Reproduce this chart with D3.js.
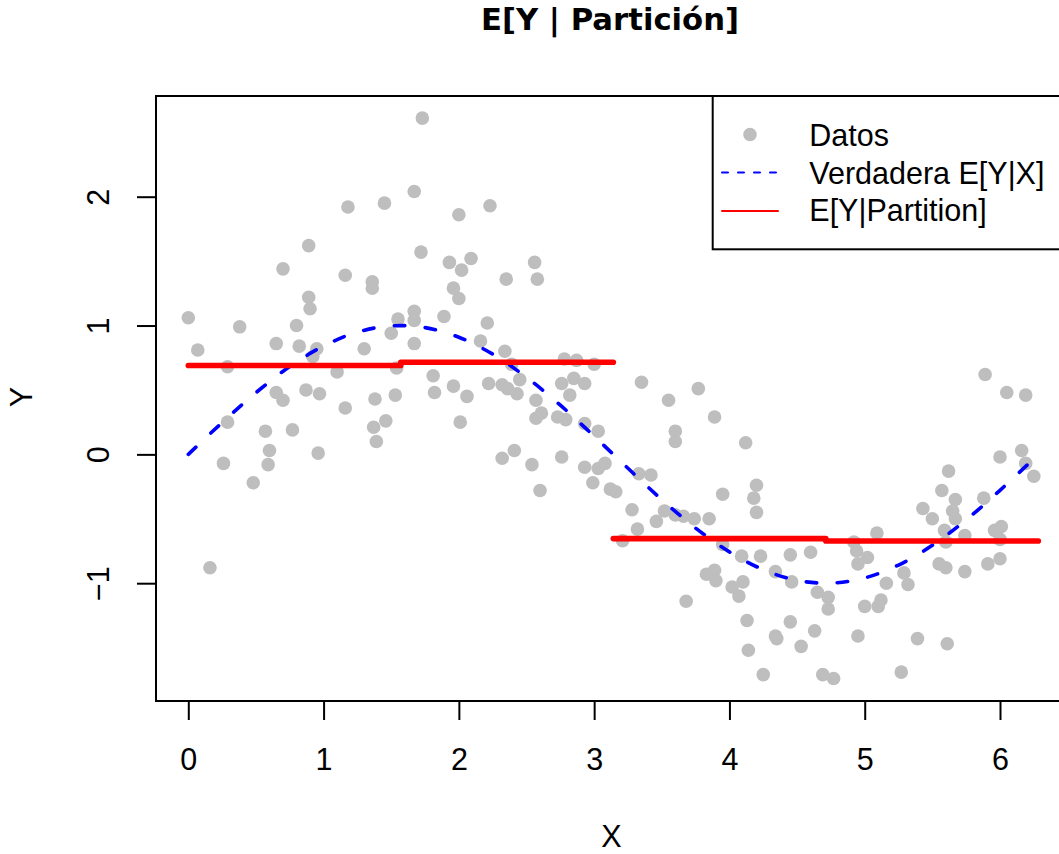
<!DOCTYPE html>
<html>
<head>
<meta charset="utf-8">
<script src="https://cdn.jsdelivr.net/npm/d3@7"></script>
<style>
  body { margin: 0; background: #ffffff; }
  svg { display: block; }
  text { font-family: "Liberation Sans", Arial, Helvetica, sans-serif; fill: #000; }
</style>
</head>
<body>
<svg id="chart" width="1059" height="854"></svg>
<script>
// ---------------- data ----------------
const titleText = "E[Y | Partición]";
const xLabel = "X";
const yLabel = "Y";
const xTicks = [0, 1, 2, 3, 4, 5, 6];
const yTicks = [-1, 0, 1, 2];
const legendLabels = ["Datos", "Verdadera E[Y|X]", "E[Y|Partition]"];

// observed points (x, y)
const dataX = [
  0.00, 0.07, 0.29, 0.29, 0.26, 0.16, 0.48, 0.38, 0.57, 0.60, 0.59, 0.65, 0.65, 0.70, 0.70, 0.77,
  0.80, 0.82, 0.89, 0.89, 0.90, 0.87, 0.92, 0.95, 0.96, 0.97, 1.10, 1.16, 1.16, 1.18, 1.30, 1.36,
  1.36, 1.37, 1.38, 1.39, 1.45, 1.46, 1.50, 1.53, 1.54, 1.55, 1.67, 1.67, 1.67, 1.67, 1.72, 1.73,
  1.81, 1.82, 1.89, 1.93, 1.96, 1.96, 2.00, 2.00, 2.01, 2.02, 2.06, 2.09, 2.23, 2.35, 2.56, 2.58,
  2.21, 2.16, 2.34, 2.39, 2.45, 2.78, 2.87, 3.00, 2.85, 2.93, 2.76, 2.22, 2.32, 2.36, 2.43, 2.57,
  2.61, 2.57, 2.82, 3.35, 3.55, 3.77, 5.89, 6.05, 6.19, 2.73, 2.79, 2.93, 3.03, 3.89, 3.60, 3.60,
  4.12, 2.32, 2.41, 2.54, 2.76, 2.60, 2.93, 3.08, 3.03, 2.99, 3.12, 3.16, 3.33, 3.42, 3.28, 3.32,
  3.46, 3.52, 3.60, 3.66, 3.74, 3.85, 3.21, 3.95, 4.20, 4.18, 4.20, 3.95, 4.09, 4.23, 3.83, 3.89,
  3.90, 4.10, 4.02, 4.07, 3.68, 4.13, 4.14, 4.25, 6.00, 6.16, 6.19, 6.25, 5.62, 5.57, 5.67, 5.65,
  5.67, 5.43, 5.50, 5.88, 5.59, 5.74, 5.96, 6.01, 6.00, 5.60, 5.55, 5.60, 5.74, 5.91, 6.00, 4.45,
  4.60, 4.34, 4.46, 4.92, 5.09, 4.94, 5.02, 4.95, 5.16, 5.29, 5.32, 4.65, 4.73, 4.73, 5.00, 5.12,
  5.10, 4.45, 4.34, 4.35, 4.53, 4.63, 4.95, 5.39, 5.61, 4.69, 4.77, 5.27
];
const dataY = [
  1.06, 0.81, 0.68, 0.25, -0.07, -0.88, -0.22, 0.99, 0.18, 0.03, -0.08, 0.86, 0.48, 0.42, 1.44, 0.19,
  1.00, 0.84, 1.62, 1.22, 1.13, 0.50, 0.76, 0.82, 0.01, 0.47, 0.64, 1.39, 0.36, 1.92, 0.82, 1.34,
  1.29, 0.21, 0.43, 0.10, 1.95, 0.26, 0.94, 0.46, 0.67, 1.05, 1.11, 1.04, 0.86, 2.04, 1.57, 2.61,
  0.61, 0.48, 1.07, 1.49, 0.53, 1.29, 1.86, 1.21, 0.25, 1.43, 0.45, 1.52, 1.93, 1.36, 1.49, 1.36,
  1.02, 0.88, 0.80, 0.70, 0.58, 0.74, 0.73, 0.70, 0.59, 0.55, 0.55, 0.55, 0.54, 0.51, 0.47, 0.42,
  0.32, 0.28, 0.46, 0.56, 0.42, 0.51, 0.62, 0.48, 0.46, 0.29, 0.27, 0.24, 0.18, 0.29, 0.18, 0.10,
  0.09, -0.03, 0.03, -0.08, -0.02, -0.28, -0.10, -0.07, -0.11, -0.22, -0.27, -0.29, -0.15, -0.16, -0.43, -0.58,
  -0.52, -0.44, -0.47, -0.48, -0.50, -0.50, -0.67, -0.31, -0.24, -0.34, -0.45, -0.70, -0.79, -0.79, -0.93, -0.90,
  -0.98, -0.99, -1.03, -1.10, -1.14, -1.29, -1.52, -1.71, -0.02, 0.03, -0.07, -0.17, -0.13, -0.28, -0.35, -0.44,
  -0.50, -0.42, -0.50, -0.34, -0.59, -0.63, -0.59, -0.56, -0.66, -0.68, -0.85, -0.88, -0.91, -0.85, -0.81, -0.78,
  -0.76, -0.91, -0.99, -0.68, -0.61, -0.75, -0.80, -0.85, -1.00, -0.92, -1.01, -1.07, -1.11, -1.20, -1.18, -1.13,
  -1.18, -1.30, -1.41, -1.43, -1.49, -1.37, -1.41, -1.43, -1.47, -1.71, -1.74, -1.69
];

// true conditional mean
const curveX = [0, 0.25, 0.5, 0.75, 1.0, 1.25, 1.5, 1.75, 2.0, 2.25, 2.5, 2.75, 3.0, 3.25,
                3.5, 3.75, 4.0, 4.25, 4.5, 4.75, 5.0, 5.25, 5.5, 5.75, 6.0, 6.25, 6.283];
const curveY = [0, 0.247, 0.479, 0.682, 0.841, 0.949, 0.997, 0.984, 0.909, 0.778, 0.598, 0.382, 0.141, -0.108,
                -0.351, -0.572, -0.757, -0.895, -0.978, -0.999, -0.959, -0.859, -0.706, -0.508, -0.279, -0.033, 0];

// partition: boundaries and means
const partBreaks = [0, 1.5708, 3.1416, 4.7124, 6.2832];
const partMeans = [0.69, 0.715, -0.654, -0.672];

// ---------------- layout ----------------
const W = 1059, H = 854;
const plotL = 156, plotR = 1072, plotT = 96, plotB = 701;
const svg = d3.select("#chart");
svg.append("rect").attr("width", W).attr("height", H).attr("fill", "#ffffff");

const x = d3.scaleLinear().domain([0, 6]).range([188.3, 1000]);
const y = d3.scaleLinear().domain([-1, 2]).range([583.2, 196.7]);

const FS = 30.5;
const GRAY = "#BEBEBE";

// clip
svg.append("defs").append("clipPath").attr("id", "clip")
  .append("rect").attr("x", plotL).attr("y", plotT)
  .attr("width", plotR - plotL).attr("height", plotB - plotT);

const plot = svg.append("g").attr("clip-path", "url(#clip)");

// points
const pts = dataX.map((d, i) => ({ x: d, y: dataY[i] }));
plot.append("g").selectAll("circle").data(pts).join("circle")
  .attr("cx", d => x(d.x)).attr("cy", d => y(d.y))
  .attr("r", 6.8).attr("fill", GRAY);

// true curve
const curvePts = curveX.map((d, i) => [d, curveY[i]]);
plot.append("path")
  .attr("d", d3.line().x(d => x(d[0])).y(d => y(d[1])).curve(d3.curveCatmullRom)(curvePts))
  .attr("fill", "none").attr("stroke", "#0000FF").attr("stroke-width", 3.6)
  .attr("stroke-dasharray", "10.5,20.5").attr("stroke-linecap", "round");

// partition means
const segs = partMeans.map((m, i) => ({ x0: partBreaks[i], x1: partBreaks[i + 1], m }));
plot.append("g").selectAll("line").data(segs).join("line")
  .attr("x1", d => x(d.x0)).attr("x2", d => x(d.x1))
  .attr("y1", d => y(d.m)).attr("y2", d => y(d.m))
  .attr("stroke", "#FF0000").attr("stroke-width", 5.6).attr("stroke-linecap", "round");

// box
svg.append("rect").attr("x", plotL).attr("y", plotT)
  .attr("width", plotR - plotL).attr("height", plotB - plotT)
  .attr("fill", "none").attr("stroke", "#000").attr("stroke-width", 2);

// x axis
const xAxis = d3.axisBottom(x).tickValues(xTicks).tickSize(19).tickFormat(d3.format("d"));
const gx = svg.append("g").attr("transform", `translate(0,${plotB})`).call(xAxis);
gx.select(".domain").remove();
gx.selectAll(".tick line").attr("stroke", "#000").attr("stroke-width", 2);
gx.selectAll(".tick text").attr("y", 69).attr("dy", null)
  .attr("font-size", FS).attr("font-family", "Liberation Sans, Arial, sans-serif").attr("fill", "#000");

// y axis
const yAxis = d3.axisLeft(y).tickValues(yTicks).tickSize(19).tickFormat(d => d < 0 ? "\u2212" + Math.abs(d) : d);
const gy = svg.append("g").attr("transform", `translate(${plotL},0)`).call(yAxis);
gy.select(".domain").remove();
gy.selectAll(".tick line").attr("stroke", "#000").attr("stroke-width", 2);
gy.selectAll(".tick text")
  .attr("x", 0).attr("y", 0).attr("dy", null)
  .attr("text-anchor", "middle")
  .attr("transform", "translate(-47,0) rotate(-90)")
  .attr("font-size", FS).attr("font-family", "Liberation Sans, Arial, sans-serif").attr("fill", "#000");

// axis titles
svg.append("text").attr("x", 611.5).attr("y", 847)
  .attr("text-anchor", "middle").attr("font-size", FS).text(xLabel);
svg.append("text").attr("transform", "translate(32,397) rotate(-90)")
  .attr("text-anchor", "middle").attr("font-size", FS).text(yLabel);

// title
svg.append("text").attr("x", 610).attr("y", 29.5)
  .attr("text-anchor", "middle").attr("font-size", 30.7).attr("font-weight", "bold")
  .style("font-family", "'DejaVu Sans', 'Liberation Sans', Arial, sans-serif")
  .text(titleText);

// legend
const lg = svg.append("g");
lg.append("rect").attr("x", 712.7).attr("y", plotT).attr("width", 400).attr("height", 153.3)
  .attr("fill", "#ffffff").attr("stroke", "#000").attr("stroke-width", 2);
const rowsY = [146, 183.5, 221];
const symY = [134.5, 172.5, 211];
lg.append("circle").attr("cx", 750).attr("cy", symY[0]).attr("r", 6.8).attr("fill", GRAY);
lg.append("line").attr("x1", 722).attr("x2", 778).attr("y1", symY[1]).attr("y2", symY[1])
  .attr("stroke", "#0000FF").attr("stroke-width", 2).attr("stroke-dasharray", "6,10").attr("stroke-linecap", "round");
lg.append("line").attr("x1", 722).attr("x2", 778).attr("y1", symY[2]).attr("y2", symY[2])
  .attr("stroke", "#FF0000").attr("stroke-width", 2).attr("stroke-linecap", "round");
lg.selectAll("text.lab").data(legendLabels).join("text").attr("class", "lab")
  .attr("x", 809.3).attr("y", (d, i) => rowsY[i]).attr("font-size", FS).text(d => d);
</script>
</body>
</html>
